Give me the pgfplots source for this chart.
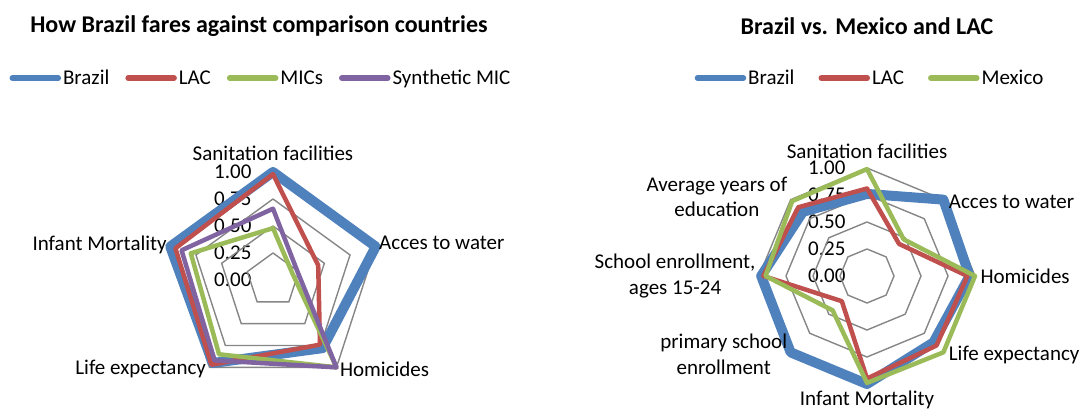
\documentclass[border=0pt]{standalone}
\usepackage{pgfplots}
\pgfplotsset{compat=1.18}
\usepgfplotslibrary{polar}
\usepackage{fontspec}
\setmainfont{Carlito}
\definecolor{cBlue}{HTML}{4F81BD}
\definecolor{cRed}{HTML}{C0504D}
\definecolor{cGreen}{HTML}{9BBB59}
\definecolor{cPurple}{HTML}{8064A2}
\definecolor{cGrid}{HTML}{868686}
\newcommand{\lf}{\fontsize{21}{25.5}\selectfont}
\newcommand{\tf}{\fontsize{24}{28}\selectfont\bfseries}
\pgfplotsset{
  radar/.style={
    x=108pt, y=108pt, xmin=0, xmax=1, ymin=0, ymax=1,
    scale only axis, clip=false, anchor=origin,
    axis x line=none, axis y line=left,
    axis line style={draw=none}, tick style={draw=none},
    ytick={0,0.25,0.5,0.75,1}, major tick length=0pt,
    yticklabel style={anchor=east, xshift=-18pt, font=\lf,
      /pgf/number format/.cd, fixed, fixed zerofill, precision=2},
    /pgf/number format/assume math mode=true,
    legend style={draw=none, fill=none, font=\lf, anchor=center},
    legend image code/.code={\draw[#1, line width=5.5pt, line cap=round] (0pt,0pt) -- (46pt,0pt);},
  },
  gridline/.style={cGrid, line width=1.4pt, forget plot, data cs=polar, line join=miter},
  ser/.style={line join=round, line cap=round, data cs=polar},
}
\begin{document}
\begin{tikzpicture}
\useasboundingbox (0pt,0pt) rectangle (1081pt,409pt);
% ---------------- left chart ----------------
\begin{axis}[radar, at={(273pt,129pt)},
  legend columns=-1,
  legend style={at={(axis description cs:-0.111,1.870)},
    /tikz/every even column/.append style={column sep=14pt}}]
\addplot[gridline] coordinates {(90,0.25) (18,0.25) (-54,0.25) (-126,0.25) (162,0.25) (90,0.25)};
\addplot[gridline] coordinates {(90,0.5) (18,0.5) (-54,0.5) (-126,0.5) (162,0.5) (90,0.5)};
\addplot[gridline] coordinates {(90,0.75) (18,0.75) (-54,0.75) (-126,0.75) (162,0.75) (90,0.75)};
\addplot[gridline] coordinates {(90,1) (18,1) (-54,1) (-126,1) (162,1) (90,1)};
\addplot[ser, cBlue, line width=10pt] coordinates {(90,1.00) (18,1.00) (-54,0.78) (-126,0.95) (162,1.00) (90,1.00)};
\addlegendentry{Brazil}
\addplot[ser, cRed, line width=4.5pt] coordinates {(90,0.98) (18,0.44) (-54,0.74) (-126,0.97) (162,0.95) (90,0.98)};
\addlegendentry{LAC}
\addplot[ser, cGreen, line width=4.5pt] coordinates {(90,0.48) (18,0.19) (-54,1.00) (-126,0.85) (162,0.80) (90,0.48)};
\addlegendentry{MICs}
\addplot[ser, cPurple, line width=4.5pt] coordinates {(90,0.66) (18,0.24) (-54,1.00) (-126,0.92) (162,0.89) (90,0.66)};
\addlegendentry{Synthetic MIC}
\node[font=\lf, anchor=south, yshift=8pt] at (axis cs:0,1) {Sanitation facilities};
\node[font=\lf, anchor=west, yshift=4pt] at (axis cs:0.951,0.309) {Acces to water};
\node[font=\lf, anchor=west, yshift=-2pt] at (axis cs:0.588,-0.809) {Homicides};
\node[font=\lf, anchor=east, yshift=-2pt] at (axis cs:-0.588,-0.809) {Life expectancy};
\node[font=\lf, anchor=east, yshift=2pt] at (axis cs:-0.951,0.309) {Infant Mortality};
\node[font=\tf] at (axis description cs:-0.13,2.35) {How Brazil fares against comparison countries};
\end{axis}
% ---------------- right chart ----------------
\begin{axis}[radar, at={(867pt,133pt)},
  legend columns=-1,
  legend style={at={(axis description cs:0.028,1.833)},
    /tikz/every even column/.append style={column sep=22pt}}]
\addplot[gridline] coordinates {(90,0.25) (45,0.25) (0,0.25) (-45,0.25) (-90,0.25) (-135,0.25) (180,0.25) (135,0.25) (90,0.25)};
\addplot[gridline] coordinates {(90,0.5) (45,0.5) (0,0.5) (-45,0.5) (-90,0.5) (-135,0.5) (180,0.5) (135,0.5) (90,0.5)};
\addplot[gridline] coordinates {(90,0.75) (45,0.75) (0,0.75) (-45,0.75) (-90,0.75) (-135,0.75) (180,0.75) (135,0.75) (90,0.75)};
\addplot[gridline] coordinates {(90,1) (45,1) (0,1) (-45,1) (-90,1) (-135,1) (180,1) (135,1) (90,1)};
\addplot[ser, cBlue, line width=10pt] coordinates {(90,0.76) (45,1.00) (0,0.95) (-45,0.87) (-90,1.00) (-135,1.00) (180,0.98) (135,0.84) (90,0.76)};
\addlegendentry{Brazil}
\addplot[ser, cRed, line width=4.5pt] coordinates {(90,0.81) (45,0.42) (0,0.93) (-45,0.91) (-90,0.95) (-135,0.33) (180,0.96) (135,0.90) (90,0.81)};
\addlegendentry{LAC}
\addplot[ser, cGreen, line width=4.5pt] coordinates {(90,0.99) (45,0.48) (0,1.00) (-45,1.00) (-90,0.99) (-135,0.45) (180,0.94) (135,0.98) (90,0.99)};
\addlegendentry{Mexico}
\node[font=\lf, anchor=south, yshift=6pt] at (axis cs:0,1) {Sanitation facilities};
\node[font=\lf, anchor=west, yshift=-2pt, xshift=2pt] at (axis cs:0.707,0.707) {Acces to water};
\node[font=\lf, anchor=west, xshift=2pt] at (axis cs:1,0) {Homicides};
\node[font=\lf, anchor=west, yshift=-3pt, xshift=2pt] at (axis cs:0.707,-0.707) {Life expectancy};
\node[font=\lf, anchor=north, yshift=-3pt] at (axis cs:0,-1) {Infant Mortality};
\node[font=\lf, anchor=east, align=center, yshift=-2pt] at (axis cs:-0.707,-0.707) {primary school\\enrollment};
\node[font=\lf, anchor=east, align=center] at (axis cs:-1,0) {School enrollment,\\ages 15-24};
\node[font=\lf, anchor=east, align=center, yshift=3pt] at (axis cs:-0.707,0.707) {Average years of\\education};
\node[font=\tf] at (axis description cs:0,2.315) {Brazil vs. Mexico and LAC};
\end{axis}
\end{tikzpicture}
\end{document}
